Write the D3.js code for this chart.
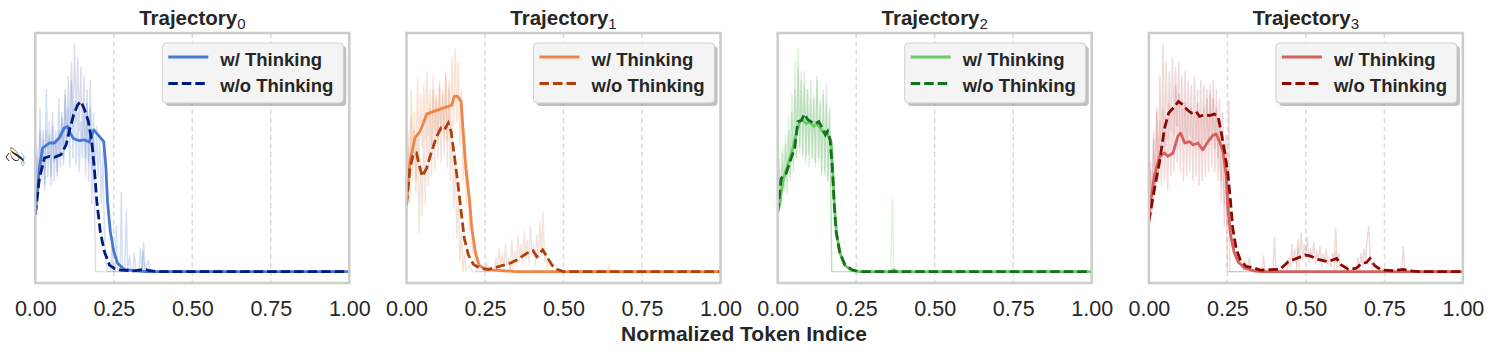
<!DOCTYPE html>
<html>
<head>
<meta charset="utf-8">
<script src="https://cdn.jsdelivr.net/npm/d3@7"></script>
<style>
body { margin: 0; background: #fff; }
text { font-family: "Liberation Sans", Arial, sans-serif; fill: #262626; }
</style>
</head>
<body>
<svg id="chart" width="1495" height="356"></svg>
<script>
// ---- data (x = normalized token index, y = normalized loss) ----
const trajNames = ['0', '1', '2', '3']
const seriesNames = ['w/ Thinking', 'w/o Thinking']
const xTicks = [0, 0.25, 0.5, 0.75, 1]

// raw (per-token) traces
const raw0w = [[0,.30],[.005,.55],[.01,.40],[.015,.72],[.02,.45],[.025,.62],[.03,.38],[.035,.80],[.04,.50],[.045,.66],[.05,.42],[.055,.70],[.06,.48],[.065,.62],[.07,.44],[.075,.76],[.08,.52],[.085,.68],[.09,.47],[.095,.80],[.1,.55],[.105,.72],[.11,.46],[.115,.84],[.12,.50],[.125,.74],[.13,.47],[.135,.70],[.14,.44],[.145,.66],[.15,.50],[.155,.72],[.16,.42],[.165,.74],[.17,.48],[.175,.84],[.18,.45],[.185,.70],[.19,.40],[.195,.64],[.2,.42],[.205,.60],[.21,.30],[.215,.52],[.22,.18],[.225,.05],[.23,0],[.255,0],[.258,.20],[.262,0],[.27,0],[.274,.35],[.278,0],[.285,0],[.29,.27],[.294,0],[.3,.07],[.305,0],[.33,0],[.335,.10],[.34,0],[.345,.13],[.35,0],[.36,.05],[.365,0],[1,0]]
const raw0o = [[0,.25],[.005,.50],[.01,.35],[.015,.62],[.02,.40],[.025,.58],[.03,.36],[.035,.62],[.04,.42],[.045,.60],[.05,.38],[.055,.64],[.06,.40],[.065,.58],[.07,.42],[.075,.62],[.08,.46],[.085,.70],[.09,.50],[.095,.78],[.1,.55],[.105,.86],[.11,.60],[.115,.92],[.12,.64],[.125,1.0],[.13,.66],[.135,.94],[.14,.62],[.145,.90],[.15,.58],[.155,.86],[.16,.50],[.165,.80],[.17,.40],[.175,.72],[.18,.30],[.185,.60],[.19,.20],[.192,0],[.24,0],[.244,.12],[.248,0],[.31,0],[.315,.08],[.32,0],[.34,0],[.343,.09],[.347,0],[1,0]]
const raw1w = [[0,.30],[.005,.62],[.01,.42],[.015,.80],[.02,.48],[.025,.70],[.03,.40],[.035,.85],[.04,.50],[.045,.78],[.05,.55],[.055,.82],[.06,.58],[.065,.88],[.07,.60],[.075,.80],[.08,.56],[.085,.86],[.09,.62],[.095,.78],[.1,.58],[.105,.84],[.11,.62],[.115,.80],[.12,.60],[.125,.88],[.13,.58],[.135,.84],[.14,.62],[.145,.94],[.15,.64],[.155,.98],[.16,.66],[.165,.92],[.17,.55],[.175,.80],[.18,.40],[.185,.62],[.19,.30],[.195,.45],[.2,.18],[.205,.30],[.21,.08],[.215,.15],[.22,.02],[.225,0],[.33,0],[.335,.05],[.34,0],[.64,0],[.645,.03],[.65,0],[1,0]]
const raw1o = [[0,.20],[.005,.55],[.01,.30],[.015,.68],[.02,.40],[.025,.62],[.03,.35],[.035,.58],[.04,.17],[.045,.50],[.05,.25],[.055,.62],[.06,.30],[.065,.70],[.07,.38],[.075,.72],[.08,.42],[.085,.80],[.09,.45],[.095,.76],[.1,.50],[.105,.82],[.11,.48],[.115,.78],[.12,.52],[.125,.86],[.13,.46],[.135,.80],[.14,.40],[.145,.66],[.15,.28],[.155,.52],[.16,.15],[.165,.35],[.17,.05],[.175,.18],[.18,0],[.185,.08],[.19,0],[.2,.03],[.21,0],[.25,0],[.255,.04],[.26,0],[.27,.02],[.28,0],[.285,.06],[.29,.01],[.295,.10],[.3,.02],[.305,.08],[.31,0],[.315,.12],[.32,.03],[.325,.06],[.33,0],[.335,.14],[.34,.04],[.345,.09],[.35,.02],[.355,.16],[.36,.05],[.365,.12],[.37,.03],[.375,.18],[.38,.06],[.385,.14],[.39,.04],[.395,.20],[.4,.08],[.405,.12],[.41,.03],[.415,.16],[.42,.06],[.425,.22],[.43,.08],[.435,.26],[.44,.04],[.445,.08],[.45,0],[1,0]]
const raw2w = [[0,.22],[.005,.45],[.01,.30],[.015,.55],[.02,.35],[.025,.60],[.03,.40],[.035,.68],[.04,.42],[.045,.78],[.05,.48],[.055,.92],[.06,.50],[.065,.98],[.07,.52],[.075,.88],[.08,.50],[.085,.82],[.09,.48],[.095,.80],[.1,.52],[.105,.76],[.11,.50],[.115,.78],[.12,.46],[.125,.84],[.13,.48],[.135,.76],[.14,.44],[.145,.80],[.15,.42],[.155,.74],[.16,.40],[.165,.70],[.17,.30],[.172,0],[.36,0],[.365,.32],[.37,0],[1,0]]
const raw2o = [[0,.25],[.005,.50],[.01,.28],[.015,.52],[.02,.36],[.025,.56],[.03,.34],[.035,.62],[.04,.40],[.045,.70],[.05,.44],[.055,.80],[.06,.50],[.065,.90],[.07,.55],[.075,.84],[.08,.52],[.085,.88],[.09,.50],[.095,.80],[.1,.46],[.105,.84],[.11,.50],[.115,.76],[.12,.48],[.125,.86],[.13,.50],[.135,.74],[.14,.42],[.145,.78],[.15,.44],[.155,.82],[.16,.40],[.165,.72],[.17,.28],[.172,0],[1,0]]
const raw3w = [[0,.22],[.005,.48],[.01,.30],[.015,.62],[.02,.36],[.025,.70],[.03,.40],[.035,.66],[.04,.38],[.045,.72],[.05,.40],[.055,.68],[.06,.36],[.065,.74],[.07,.42],[.075,.70],[.08,.44],[.085,.82],[.09,.48],[.095,.78],[.1,.44],[.105,.72],[.11,.40],[.115,.74],[.12,.42],[.125,.70],[.13,.44],[.135,.72],[.14,.40],[.145,.70],[.15,.42],[.155,.74],[.16,.38],[.165,.68],[.17,.40],[.175,.72],[.18,.42],[.185,.76],[.19,.44],[.195,.78],[.2,.46],[.205,.76],[.21,.44],[.215,.72],[.22,.40],[.225,.66],[.23,.30],[.235,.55],[.24,.20],[.245,.40],[.25,0],[.36,0],[.365,.07],[.37,0],[.47,0],[.475,.10],[.48,0],[.59,0],[.595,.09],[.6,0],[1,0]]
const raw3o = [[0,.20],[.005,.45],[.01,.26],[.015,.58],[.02,.34],[.025,.72],[.03,.42],[.035,.86],[.04,.50],[.045,1.0],[.05,.55],[.055,.92],[.06,.58],[.065,.88],[.07,.62],[.075,.94],[.08,.60],[.085,.90],[.09,.64],[.095,.92],[.1,.62],[.105,.86],[.11,.58],[.115,.88],[.12,.56],[.125,.84],[.13,.60],[.135,.82],[.14,.56],[.145,.86],[.15,.58],[.155,.80],[.16,.54],[.165,.84],[.17,.56],[.175,.82],[.18,.58],[.185,.80],[.19,.56],[.195,.82],[.2,.58],[.205,.84],[.21,.54],[.215,.80],[.22,.50],[.225,.76],[.23,.40],[.235,.70],[.24,.30],[.245,.60],[.25,.20],[.255,.75],[.258,0],[.3,0],[.305,.05],[.31,0],[.32,.06],[.325,0],[.395,0],[.4,.15],[.405,0],[.44,0],[.445,.06],[.45,.02],[.455,.12],[.46,.04],[.465,.10],[.47,.03],[.475,.14],[.48,.06],[.485,.17],[.49,.05],[.495,.12],[.5,.08],[.505,.15],[.51,.04],[.515,.10],[.52,.06],[.525,.13],[.53,.03],[.535,.09],[.54,.05],[.545,.11],[.55,.02],[.555,.08],[.56,.04],[.565,.10],[.57,.03],[.575,.06],[.58,.02],[.585,.08],[.59,.05],[.595,.19],[.6,.04],[.605,.08],[.61,.01],[.62,0],[.63,.03],[.64,0],[.66,.02],[.665,.06],[.67,.01],[.675,.08],[.68,.03],[.685,.10],[.69,.05],[.695,.14],[.7,.20],[.705,.06],[.71,.02],[.715,0],[.805,0],[.81,.11],[.815,0],[1,0]]

// smoothed traces
const smooth0w = [[0,.25],[.013,.455],[.023,.543],[.045,.566],[.061,.566],[.076,.588],[.092,.632],[.103,.639],[.111,.61],[.122,.585],[.14,.576],[.156,.58],[.172,.57],[.186,.624],[.204,.595],[.218,.572],[.225,.455],[.23,.308],[.239,.176],[.25,.088],[.262,.037],[.283,.01],[.315,.004],[.35,0],[1,0]]
const smooth0o = [[0,.25],[.013,.41],[.029,.5],[.045,.507],[.061,.503],[.082,.515],[.098,.558],[.108,.617],[.122,.69],[.135,.734],[.145,.749],[.156,.716],[.169,.661],[.18,.572],[.188,.455],[.196,.308],[.207,.176],[.22,.088],[.236,.029],[.252,.014],[.273,.007],[.315,.003],[.335,.008],[.35,.01],[.365,.004],[.39,0],[1,0]]
const smooth1w = [[0,.294],[.011,.485],[.027,.588],[.043,.617],[.054,.654],[.064,.693],[.08,.702],[.101,.712],[.123,.723],[.144,.732],[.152,.771],[.163,.771],[.174,.749],[.181,.602],[.189,.455],[.2,.323],[.208,.191],[.219,.088],[.231,.029],[.25,.01],[.314,.003],[.35,0],[1,0]]
const smooth1o = [[0,.294],[.011,.455],[.021,.514],[.032,.522],[.043,.455],[.05,.419],[.064,.455],[.08,.529],[.096,.595],[.11,.632],[.121,.624],[.133,.654],[.142,.617],[.152,.514],[.163,.396],[.174,.264],[.184,.147],[.197,.074],[.213,.032],[.234,.015],[.261,.01],[.293,.022],[.33,.037],[.351,.051],[.383,.081],[.403,.092],[.415,.066],[.434,.096],[.447,.066],[.463,.029],[.479,.01],[.5,0],[1,0]]
const smooth2w = [[0,.27],[.006,.294],[.016,.396],[.032,.47],[.048,.543],[.061,.617],[.07,.66],[.08,.668],[.091,.65],[.101,.66],[.114,.639],[.125,.65],[.135,.632],[.146,.61],[.154,.617],[.163,.595],[.17,.572],[.176,.426],[.181,.279],[.188,.162],[.199,.08],[.213,.029],[.234,.007],[.26,0],[.36,0],[.37,.008],[.38,0],[1,0]]
const smooth2o = [[0,.26],[.011,.41],[.027,.433],[.043,.5],[.054,.543],[.064,.66],[.075,.665],[.085,.693],[.096,.668],[.106,.66],[.117,.65],[.131,.66],[.142,.632],[.152,.602],[.159,.617],[.167,.58],[.174,.455],[.18,.294],[.186,.176],[.197,.088],[.213,.032],[.239,.007],[.26,0],[1,0]]
const smooth3w = [[0,.24],[.008,.33],[.018,.426],[.034,.507],[.05,.522],[.06,.507],[.077,.522],[.092,.595],[.101,.61],[.114,.566],[.13,.572],[.14,.558],[.156,.566],[.172,.536],[.188,.572],[.204,.6],[.214,.606],[.225,.572],[.236,.529],[.246,.426],[.252,.279],[.26,.162],[.271,.088],[.284,.044],[.305,.015],[.336,.003],[.36,0],[1,0]]
const smooth3o = [[0,.22],[.018,.367],[.034,.484],[.05,.632],[.063,.698],[.082,.727],[.094,.749],[.108,.734],[.122,.712],[.135,.698],[.15,.705],[.161,.683],[.177,.69],[.193,.687],[.209,.693],[.22,.683],[.23,.617],[.241,.529],[.252,.426],[.26,.308],[.267,.191],[.278,.1],[.292,.048],[.31,.023],[.331,.018],[.354,.007],[.417,.01],[.444,.044],[.47,.058],[.497,.073],[.513,.069],[.539,.054],[.571,.044],[.598,.058],[.613,.029],[.635,.01],[.661,.015],[.677,.037],[.693,.04],[.704,.058],[.72,.025],[.741,.007],[.778,.004],[.81,.01],[.831,.004],[.86,0],[1,0]]

const rawSets = [[raw0w, raw0o], [raw1w, raw1o], [raw2w, raw2o], [raw3w, raw3o]]
const smoothSets = [[smooth0w, smooth0o], [smooth1w, smooth1o], [smooth2w, smooth2o], [smooth3w, smooth3o]]

// seaborn muted (w/) and dark (w/o) colours
const lightColors = ['#4878d0', '#ee854a', '#6acc64', '#d65f5f']
const darkColors = ['#001c7f', '#b1400d', '#12711c', '#8c0800']

// ---- layout ----
const plotTop = 33
const plotH = 250
const plotW = 314
const panelLeft = [35.3, 406.5, 777.7, 1148.9]

const svg = d3.select('#chart')

const x = d3.scaleLinear().domain([0, 1]).range([0, plotW])
const y = d3.scaleLinear().domain([-0.05, 1.05]).range([plotH, 0])

const line = d3.line()
	.x(d => x(d[0]))
	.y(d => y(d[1]))

trajNames.forEach((name, i) => {
	const g = svg.append('g')
		.attr('transform', `translate(${panelLeft[i]},${plotTop})`)

	g.append('clipPath')
		.attr('id', 'clip' + i)
		.append('rect')
		.attr('width', plotW)
		.attr('height', plotH)

	// vertical dashed grid
	g.selectAll('.grid')
		.data(xTicks.slice(1, -1))
		.enter()
		.append('line')
		.attr('x1', d => x(d))
		.attr('x2', d => x(d))
		.attr('y1', 0)
		.attr('y2', plotH)
		.attr('stroke', '#dadada')
		.attr('stroke-width', 1.5)
		.attr('stroke-dasharray', '5,3.5')

	const plot = g.append('g').attr('clip-path', `url(#clip${i})`)

	// raw traces
	rawSets[i].forEach((r, j) => {
		plot.append('path')
			.datum(r)
			.attr('d', line)
			.attr('fill', 'none')
			.attr('stroke', j === 0 ? lightColors[i] : darkColors[i])
			.attr('stroke-opacity', j === 0 ? 0.24 : 0.15)
			.attr('stroke-width', 1.4)
			.attr('stroke-linejoin', 'round')
	})

	// smoothed traces
	plot.append('path')
		.datum(smoothSets[i][0])
		.attr('d', line)
		.attr('fill', 'none')
		.attr('stroke', lightColors[i])
		.attr('stroke-width', 2.8)
		.attr('stroke-linejoin', 'round')

	plot.append('path')
		.datum(smoothSets[i][1])
		.attr('d', line)
		.attr('fill', 'none')
		.attr('stroke', darkColors[i])
		.attr('stroke-width', 2.8)
		.attr('stroke-dasharray', '9.5,4')

	// frame
	g.append('rect')
		.attr('width', plotW)
		.attr('height', plotH)
		.attr('fill', 'none')
		.attr('stroke', '#cccccc')
		.attr('stroke-width', 2.5)

	// x axis tick labels
	const axis = d3.axisBottom(x).tickValues(xTicks).tickFormat(d3.format('.2f')).tickSize(0).tickPadding(0)
	const ax = g.append('g')
		.attr('transform', `translate(0,${plotH})`)
		.call(axis)
	ax.select('.domain').remove()
	ax.selectAll('text')
		.attr('y', 33)
		.attr('dy', 0)
		.style('font-size', '21.5px')
		.attr('fill', '#262626')

	// title
	const t = g.append('text')
		.attr('x', plotW / 2)
		.attr('y', -8)
		.attr('text-anchor', 'middle')
		.style('font-size', '20.5px')
		.style('font-weight', 'bold')
	t.append('tspan').text('Trajectory')
	t.append('tspan')
		.attr('dy', 4)
		.style('font-size', '15px')
		.style('font-weight', 'normal')
		.text(name)

	// legend
	const lg = g.append('g').attr('transform', 'translate(127,10)')
	lg.append('rect')
		.attr('x', 3)
		.attr('y', 3)
		.attr('width', 181)
		.attr('height', 60)
		.attr('rx', 4)
		.attr('fill', '#8c8c8c')
		.attr('fill-opacity', 0.55)
	lg.append('rect')
		.attr('width', 181)
		.attr('height', 60)
		.attr('rx', 4)
		.attr('fill', '#f4f4f4')
		.attr('stroke', '#cfcfcf')
		.attr('stroke-width', 1)

	seriesNames.forEach((s, j) => {
		lg.append('line')
			.attr('x1', 6)
			.attr('x2', 46)
			.attr('y1', 14 + j * 26.5)
			.attr('y2', 14 + j * 26.5)
			.attr('stroke', j === 0 ? lightColors[i] : darkColors[i])
			.attr('stroke-width', 2.8)
			.attr('stroke-dasharray', j === 0 ? null : '9.5,4')
		lg.append('text')
			.attr('x', 58)
			.attr('y', 22.5 + j * 26.5)
			.style('font-size', '18.5px')
			.style('font-weight', 'bold')
			.text(s)
	})
})

// y label: script L with a hat
const yl = svg.append('g').attr('transform', 'translate(24,158) rotate(-90)')
yl.append('text')
	.attr('text-anchor', 'middle')
	.style('font-family', '"DejaVu Serif", serif')
	.style('font-size', '19px')
	.style('font-style', 'italic')
	.text('\u2112')
yl.append('path')
	.attr('d', 'M-3,-15 L1,-18 L5,-15')
	.attr('fill', 'none')
	.attr('stroke', '#262626')
	.attr('stroke-width', 1)

// x axis label
svg.append('text')
	.attr('x', 744)
	.attr('y', 341)
	.attr('text-anchor', 'middle')
	.style('font-size', '21px')
	.style('font-weight', 'bold')
	.text('Normalized Token Indice')
</script>
</body>
</html>
